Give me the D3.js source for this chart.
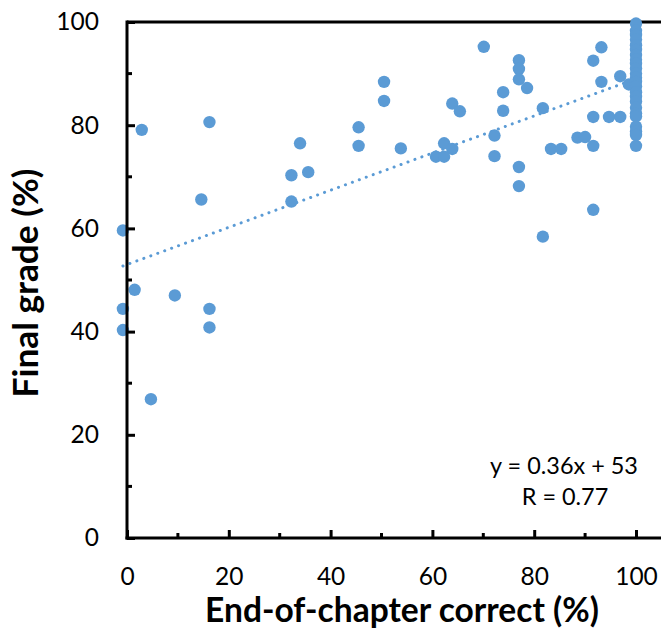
<!DOCTYPE html>
<html>
<head>
<meta charset="utf-8">
<script src="https://cdn.jsdelivr.net/npm/d3@7"></script>
<style>
  html, body { margin: 0; padding: 0; background: #fff; }
  svg { display: block; }
  text { font-family: Lato, "Open Sans", sans-serif; fill: #000; }
</style>
</head>
<body>
<svg id="chart" width="661" height="629"></svg>
<script>
// ---- data ----
const chapterCorrect = [
  2.9, 16.2, 14.6, -0.8, 34.0, 32.3, 35.6, 32.3, 45.5, 45.5,
  50.5, 50.5, 53.8, 70.1, 77.0, 77.0, 77.0, 78.6, 73.9, 73.9,
  63.9, 65.4, 81.7, 72.2, 72.2, 62.3, 63.9, 60.7, 62.3, 77.0,
  77.0, 81.7, 83.3, 85.3, 88.5, 90.0, 91.6, 91.6, 94.7, 96.9,
  91.6, 91.6, 93.2, 93.2, 96.9, 98.6, 1.5, -0.8, -0.8, 9.4,
  16.2, 16.2, 4.7,
  100, 100, 100, 100, 100, 100, 100, 100, 100, 100, 100, 100,
  100, 100, 100, 100, 100, 100, 100, 100, 100, 100, 100, 100
];
const finalGrade = [
  79.1, 80.6, 65.6, 59.6, 76.5, 70.3, 70.9, 65.2, 79.6, 76.0,
  88.4, 84.7, 75.5, 95.2, 92.6, 90.9, 88.9, 87.2, 86.4, 82.8,
  84.2, 82.7, 83.3, 78.0, 74.0, 76.5, 75.4, 73.9, 73.9, 71.9,
  68.2, 58.4, 75.4, 75.4, 77.6, 77.7, 76.0, 81.6, 81.6, 81.6,
  63.6, 92.5, 95.1, 88.4, 89.5, 87.9, 48.1, 44.4, 40.3, 47.0,
  44.4, 40.8, 26.9,
  99.7, 98.3, 97.5, 96.6, 95.5, 94.6, 93.6, 92.7, 91.9, 91.0, 90.0, 89.2,
  88.4, 87.5, 86.4, 85.5, 84.6, 83.4, 82.3, 81.7, 79.7, 78.8, 78.1, 76.0
];
const trendSlope = 0.36;
const trendIntercept = 53;
const xTickValues = [0, 20, 40, 60, 80, 100];
const xMinorTicks = [10, 30, 50, 70, 90];
const yTickValues = [0, 20, 40, 60, 80, 100];
const yMinorTicks = [10, 30, 50, 70, 90];
const xTitle = "End-of-chapter correct (%)";
const yTitle = "Final grade (%)";
const equationText = "y = 0.36x + 53";
const rText = "R = 0.77";

(function () {
const svg = d3.select("#chart");
const pL = 127, pR = 661, pT = 22, pB = 538;
const x = d3.scaleLinear().domain([0, 100]).range([pL, 636]);
const y = d3.scaleLinear().domain([0, 100]).range([pB, pT]);
const blue = "#5B9BD5";
const tickFont = 24.5;

// fit a text element's font size so that it spans a target width
function fit(sel, base, target) {
  sel.attr("font-size", base);
  const w = sel.node().getComputedTextLength();
  if (w > 0) sel.attr("font-size", base * target / w);
  return sel;
}

svg.append("line").attr("x1", pL).attr("x2", pR).attr("y1", pT).attr("y2", pT)
  .attr("stroke", "#000").attr("stroke-width", 3);

const xs = d3.extent(chapterCorrect);
svg.append("line")
  .attr("x1", x(xs[0])).attr("y1", y(trendSlope * xs[0] + trendIntercept))
  .attr("x2", x(xs[1])).attr("y2", y(trendSlope * xs[1] + trendIntercept))
  .attr("stroke", blue).attr("stroke-width", 3)
  .attr("stroke-linecap", "round").attr("stroke-dasharray", "0.1 7.3");

const pts = chapterCorrect.map((d, i) => ({ x: d, y: finalGrade[i] }));
svg.append("g").selectAll("circle").data(pts).join("circle")
  .attr("cx", d => x(d.x)).attr("cy", d => y(d.y)).attr("r", 6.2)
  .attr("fill", blue);

// x axis
const gx = svg.append("g").attr("transform", `translate(0,${pB})`);
gx.call(d3.axisBottom(x).tickValues(xTickValues).tickSize(-8).tickPadding(30)
  .tickFormat(d3.format("d")));
gx.select(".domain").remove();
gx.append("line").attr("x1", pL - 1.5).attr("x2", pR).attr("stroke", "#000").attr("stroke-width", 3);
gx.selectAll(".tick line").attr("stroke", "#000").attr("stroke-width", 3);
gx.selectAll(".tick text").attr("font-size", tickFont).style("font-family", "Lato, sans-serif");
gx.selectAll(".minor").data(xMinorTicks).join("line").attr("class", "minor")
  .attr("x1", d => x(d)).attr("x2", d => x(d)).attr("y1", 0).attr("y2", -5)
  .attr("stroke", "#000").attr("stroke-width", 3);

// y axis
const gy = svg.append("g").attr("transform", `translate(${pL},0)`);
gy.call(d3.axisLeft(y).tickValues(yTickValues).tickSize(-8).tickPadding(28)
  .tickFormat(d3.format("d")));
gy.select(".domain").remove();
gy.append("line").attr("y1", pT - 1.5).attr("y2", pB + 1.5).attr("stroke", "#000").attr("stroke-width", 3);
gy.selectAll(".tick line").attr("stroke", "#000").attr("stroke-width", 3);
gy.selectAll(".tick text").attr("font-size", tickFont).style("font-family", "Lato, sans-serif");
gy.selectAll(".minor").data(yMinorTicks).join("line").attr("class", "minor")
  .attr("y1", d => y(d)).attr("y2", d => y(d)).attr("x1", 0).attr("x2", 5)
  .attr("stroke", "#000").attr("stroke-width", 3);

// titles
fit(svg.append("text").attr("x", 402).attr("y", 622).attr("text-anchor", "middle")
  .attr("font-weight", "bold").text(xTitle), 30, 394);
fit(svg.append("text").attr("transform", "translate(38,283) rotate(-90)")
  .attr("text-anchor", "middle").attr("font-weight", "bold").text(yTitle), 30, 229);

// equation
fit(svg.append("text").attr("x", 564).attr("y", 473.5).attr("text-anchor", "middle")
  .text(equationText), 20, 148);
fit(svg.append("text").attr("x", 565).attr("y", 505).attr("text-anchor", "middle")
  .text(rText), 20, 86.6);
})();
</script>
</body>
</html>
